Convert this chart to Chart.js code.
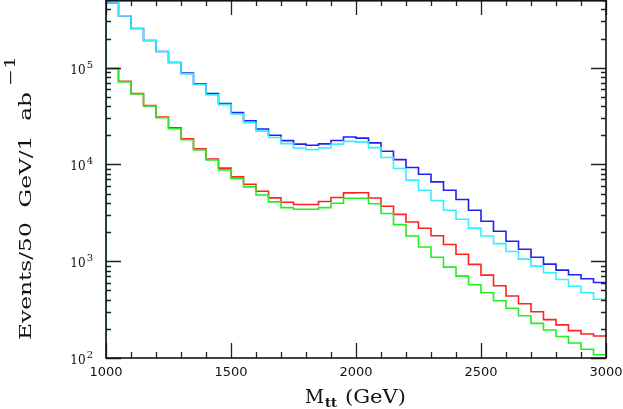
<!DOCTYPE html>
<html>
<head>
<meta charset="utf-8">
<script src="https://cdn.jsdelivr.net/npm/chart.js@4.4.1/dist/chart.umd.min.js"></script>
<style>
  html, body { margin: 0; padding: 0; background: #fff; }
  #wrap { width: 623px; height: 409px; position: relative; }
</style>
</head>
<body>
<div id="wrap"><canvas id="mttChart"></canvas></div>
<script>
// 50 GeV bins, left edges plus the last right edge
const binEdges = [1000, 1050, 1100, 1150, 1200, 1250, 1300, 1350, 1400, 1450,
                  1500, 1550, 1600, 1650, 1700, 1750, 1800, 1850, 1900, 1950,
                  2000, 2050, 2100, 2150, 2200, 2250, 2300, 2350, 2400, 2450,
                  2500, 2550, 2600, 2650, 2700, 2750, 2800, 2850, 2900, 2950, 3000];

// events / bin
const blueVals = [466000, 344000, 254000, 191000, 147000, 113000, 87700, 67900, 53900, 42500,
                  34300, 28300, 23200, 20000, 17600, 16200, 15800, 16300, 17700, 19200,
                  18700, 16700, 13700, 11200, 9310, 7930, 6600, 5420, 4340, 3360,
                  2590, 2040, 1610, 1330, 1100, 933, 809, 725, 659, 603];
const cyanVals = [466000, 344000, 254000, 191000, 147000, 113000, 86300, 66800, 52300, 41500,
                  33200, 27000, 22100, 19000, 16400, 14800, 14200, 14800, 16200, 17300,
                  17000, 14900, 11800, 9090, 6880, 5420, 4240, 3360, 2710, 2200,
                  1820, 1520, 1260, 1050, 890, 760, 648, 552, 472, 405];
const redVals = [97900, 72400, 53900, 40500, 30900, 23900, 18400, 14500, 11400, 9160,
                 7440, 6250, 5290, 4510, 4070, 3850, 3850, 4140, 4550, 5080,
                 5100, 4500, 3700, 3050, 2540, 2190, 1830, 1490, 1180, 927,
                 718, 557, 437, 363, 300, 249, 220, 192, 177, 169];
const greenVals = [97900, 71300, 53500, 40200, 30400, 23400, 18000, 14100, 11100, 8790,
                   7160, 5860, 4830, 4100, 3580, 3440, 3440, 3580, 3970, 4480,
                   4480, 3920, 3110, 2390, 1820, 1400, 1100, 869, 701, 572,
                   472, 390, 327, 273, 228, 195, 167, 143, 123, 108];

const xMin = 1000, xMax = 3000;
const yMin = 100, yMax = 500000;
const xMajorTicks = [1000, 1500, 2000, 2500, 3000];
const xTickLabels = ['1000', '1500', '2000', '2500', '3000'];
const yDecades = [2, 3, 4, 5];

// histogram outline: rise from the floor at the first edge, close at the last edge
function toSteps(vals) {
    let pts = [{ x: binEdges[0], y: yMin }];
    vals.forEach((v, i) => pts.push({ x: binEdges[i], y: v }));
    pts.push({ x: binEdges[vals.length], y: vals[vals.length - 1] });
    return pts;
}

function fitText(ctx, text, x, y, width) {
    let w = ctx.measureText(text).width;
    ctx.save();
    ctx.translate(x, y);
    ctx.scale(width / w, 1);
    ctx.fillText(text, 0, 0);
    ctx.restore();
}

// frame, inward ticks and labels in the old topdrawer style
const frameAxes = {
    id: 'frameAxes',
    afterDatasetsDraw(chart) {
        const { ctx, chartArea: a, scales: { x, y } } = chart;
        ctx.save();
        ctx.strokeStyle = '#222';
        ctx.lineWidth = 1.3;
        ctx.beginPath();
        for (let v = xMin; v <= xMax; v += 100) {
            let px = Math.round(x.getPixelForValue(v)) + 0.5;
            let len = xMajorTicks.includes(v) ? 15 : 6;
            ctx.moveTo(px, a.bottom); ctx.lineTo(px, a.bottom - len);
            ctx.moveTo(px, a.top); ctx.lineTo(px, a.top + len);
        }
        yDecades.forEach(d => {
            for (let m = 1; m <= 9; m++) {
                let v = m * Math.pow(10, d);
                if (v > yMax) break;
                let py = Math.round(y.getPixelForValue(v)) + 0.5;
                let len = m === 1 ? 15 : 5;
                ctx.moveTo(a.left, py); ctx.lineTo(a.left + len, py);
                ctx.moveTo(a.right, py); ctx.lineTo(a.right - len, py);
            }
        });
        ctx.stroke();
        ctx.strokeStyle = '#111';
        ctx.lineWidth = 1.6;
        ctx.strokeRect(a.left, a.top + 0.8, a.right - a.left, a.bottom - a.top - 0.8);

        ctx.fillStyle = '#111';
        // x tick labels
        ctx.font = '13px "DejaVu Sans"';
        ctx.textAlign = 'center';
        ctx.textBaseline = 'alphabetic';
        xMajorTicks.forEach((v, i) => {
            ctx.fillText(xTickLabels[i], x.getPixelForValue(v), 376);
        });
        // y tick labels 10^n
        yDecades.forEach(d => {
            let py = y.getPixelForValue(Math.pow(10, d));
            ctx.textAlign = 'right';
            ctx.font = '10px "DejaVu Serif"';
            let ew = ctx.measureText(String(d)).width;
            ctx.fillText(String(d), 93, py);
            ctx.font = '12px "DejaVu Serif"';
            ctx.fillText('10', 93 - ew - 1, py + 6);
        });

        // x title: M_tt (GeV)
        ctx.textAlign = 'left';
        ctx.font = '19px "DejaVu Serif"';
        fitText(ctx, 'M', 305, 403, 19);
        ctx.font = 'bold 12px "DejaVu Serif"';
        fitText(ctx, 'tt', 325, 407, 12);
        ctx.font = '19px "DejaVu Serif"';
        fitText(ctx, '(GeV)', 345, 403, 61);

        // y title, rotated
        ctx.save();
        ctx.translate(31, 340);
        ctx.rotate(-Math.PI / 2);
        ctx.font = '17px "DejaVu Serif"';
        fitText(ctx, 'Events/50  GeV/1  ab', 0, 0, 248);
        ctx.font = '14px "DejaVu Serif"';
        fitText(ctx, '\u22121', 254, -16, 30);
        ctx.restore();
        ctx.restore();
    }
};

const ctx = document.getElementById('mttChart').getContext('2d');
let mttChart = new Chart(ctx, {
    type: 'line',
    data: {
        datasets: [
            { label: 'cyan', data: toSteps(cyanVals), borderColor: '#33f0ff' },
            { label: 'green', data: toSteps(greenVals), borderColor: '#22ee22' },
            { label: 'blue', data: toSteps(blueVals), borderColor: '#2020f0' },
            { label: 'red', data: toSteps(redVals), borderColor: '#ff2222' }
        ]
    },
    options: {
        responsive: true,
        maintainAspectRatio: false,
        animation: false,
        layout: { padding: { left: 106, right: 17, top: 0, bottom: 51 } },
        datasets: {
            line: { stepped: true, borderWidth: 1.6, pointRadius: 0, fill: false, tension: 0 }
        },
        plugins: { legend: { display: false }, tooltip: { enabled: false } },
        scales: {
            x: { type: 'linear', min: xMin, max: xMax, display: false },
            y: { type: 'logarithmic', min: yMin, max: yMax, display: false }
        }
    },
    plugins: [frameAxes]
});
</script>
</body>
</html>
